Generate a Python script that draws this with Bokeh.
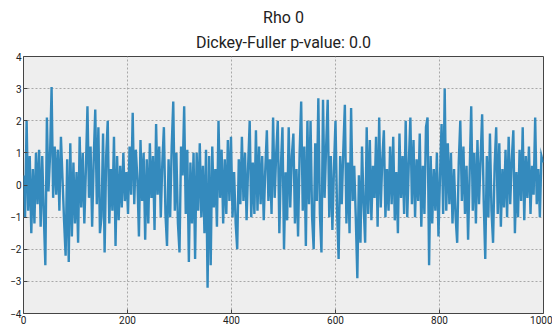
from bokeh.plotting import figure
from bokeh.models import Title, FixedTicker, Range1d
from bokeh.embed import file_html
from bokeh.resources import INLINE

# Estimated white-noise series (sampled every 3rd step, index 0..999)
rho0_values = [
    0.3, -1.0, 2.0, -0.8, 0.9, -1.5, 0.5, -1.2, 1.0, -0.6,
    1.1, -1.3, 0.9, -0.9, -2.5, 2.1, -0.2, 0.9, 3.05, -0.4,
    1.2, -0.3, 1.1, -0.8, 1.5, 0.2, -1.1, -2.2, 0.8, -2.4,
    1.3, -1.6, 0.7, -1.2, 0.4, -1.8, 1.5, -0.7, 1.0, -1.2,
    0.5, 2.45, -0.4, 1.2, -1.3, 0.8, 2.35, -0.6, 1.8, -1.5,
    -1.0, 1.6, -2.1, 0.9, 2.0, -1.2, 0.5, -0.8, 1.5, -1.9,
    0.9, -1.1, 0.6, -0.7, 1.0, -0.5, 0.4, -0.9, 1.2, -0.3,
    2.25, -0.6, 1.1, 0.2, -1.6, 1.4, -0.5, 1.0, -1.7, 0.8,
    -1.2, 1.3, -0.4, 0.9, -1.4, 1.9, -0.3, 1.2, -1.0, 0.7,
    1.8, -0.9, -1.9, 0.8, -1.0, 1.2, 2.6, -0.8, 1.0, -1.2,
    -2.1, 1.2, 0.3, 2.45, -0.9, 1.1, -2.4, 0.7, -1.2, 1.0,
    -2.3, 1.0, -0.8, 1.3, -1.0, 0.6, -1.5, 1.1, -3.2, 0.9,
    -2.5, 1.2, -0.7, 0.5, -1.3, 2.0, -0.4, 1.1, -1.2, 0.8,
    -0.9, 1.4, -0.5, 1.5, -1.0, 0.4, -1.2, -2.0, 0.8, -0.6,
    1.5, -0.5, 1.0, -1.1, 0.6, 2.0, -1.0, 0.7, -0.9, 1.7,
    -0.8, 1.2, -0.6, 0.9, -1.1, 0.5, 1.7, -0.5, 0.8, -0.9,
    2.1, -0.4, 1.0, 2.0, -1.5, 0.6, 1.8, -2.0, 0.4, -1.1,
    1.8, -0.7, 0.9, 1.6, -1.2, 0.5, -1.6, 1.0, 2.6, -0.8,
    1.2, -1.9, 2.0, -0.6, 2.0, -1.0, -2.0, 1.3, -0.5, 2.7,
    -0.9, -2.1, 2.65, -0.4, 1.2, 2.65, -1.0, 0.9, -1.4, 0.5,
    2.0, -0.8, -2.3, 0.9, -0.6, 1.1, 2.5, -1.2, 0.7, -1.5,
    2.4, -0.5, 0.6, -1.0, -2.9, 0.3, -1.8, 1.2, -0.6, -1.8,
    1.8, -0.9, 1.4, -1.1, 0.6, -0.4, 1.5, -1.3, 2.1, -0.7,
    0.8, 1.7, -1.0, 0.5, -0.8, 1.2, -0.6, 1.5, -1.1, 0.4,
    -1.5, 1.6, -0.4, 0.9, -0.9, 2.0, -1.0, 0.7, 2.1, -0.6,
    1.4, -1.0, 0.8, -0.5, 1.6, -1.3, 0.6, -0.9, 1.8, 2.1,
    -2.5, 0.9, -1.2, 0.5, -0.8, 1.0, -1.6, 0.3, 1.9, -0.9,
    3.0, -0.8, 1.3, -0.6, 1.0, -1.2, 0.5, -1.0, -1.8, 0.7,
    2.0, -0.5, 1.2, -0.9, 0.6, -1.7, 0.4, 2.45, -0.8, 1.0,
    -1.2, 1.4, -0.6, 0.8, 2.2, -0.5, -2.3, 0.9, -1.0, 1.6,
    -0.8, -1.8, 0.6, 1.8, -0.9, 1.3, -1.3, 0.5, -0.7, 1.1,
    -1.0, 1.5, -0.6, 0.8, 1.7, -1.5, 0.4, -1.0, 1.1, -0.5,
    1.8, -1.1, 0.9, -0.4, 1.2, -0.9, 0.6, -0.3, 2.1, -0.6,
    0.5, -1.0, 0.9, 0.7,
]
step = 3
time_index = [step * k for k in range(len(rho0_values))]

x_ticks = [0, 200, 400, 600, 800, 1000]
y_ticks = [-4, -3, -2, -1, 0, 1, 2, 3, 4]
title_main = "Rho 0"
title_sub = "Dickey-Fuller p-value: 0.0"

FONT = "Roboto"

p = figure(width=552, height=326, output_backend="svg", toolbar_location=None,
           x_range=Range1d(0, 1000), y_range=Range1d(-4, 4),
           min_border_left=23, min_border_right=9, min_border_top=56,
           min_border_bottom=12)

p.add_layout(Title(text=title_sub, align="center", text_font=FONT,
                   text_font_size="16px", text_font_style="normal",
                   text_color="#222222", standoff=9), "above")
p.add_layout(Title(text=title_main, align="center", text_font=FONT,
                   text_font_size="16px", text_font_style="normal",
                   text_color="#222222", standoff=0), "above")

p.line(time_index, rho0_values, line_color="#348ABD", line_width=2.4,
       line_join="miter")

p.background_fill_color = "#eeeeee"
p.border_fill_color = "white"
p.outline_line_color = "#444444"
p.outline_line_width = 1

for ax in (p.xaxis[0], p.yaxis[0]):
    ax.axis_line_color = None
    ax.major_tick_in = 4
    ax.major_tick_out = 0
    ax.minor_tick_in = 0
    ax.minor_tick_out = 0
    ax.major_tick_line_color = "#444444"
    ax.major_label_text_font = FONT
    ax.major_label_text_font_size = "10px"
    ax.major_label_text_color = "#222222"
    ax.major_label_standoff = 2

p.xaxis[0].ticker = FixedTicker(ticks=x_ticks)
p.yaxis[0].ticker = FixedTicker(ticks=y_ticks)

for g in (p.xgrid[0], p.ygrid[0]):
    g.grid_line_color = "#a8a8a8"
    g.grid_line_dash = "2 2"
    g.grid_line_width = 1
p.xgrid[0].ticker = FixedTicker(ticks=x_ticks)
p.ygrid[0].ticker = FixedTicker(ticks=y_ticks)

open("out.html", "w").write(file_html(p, INLINE))
